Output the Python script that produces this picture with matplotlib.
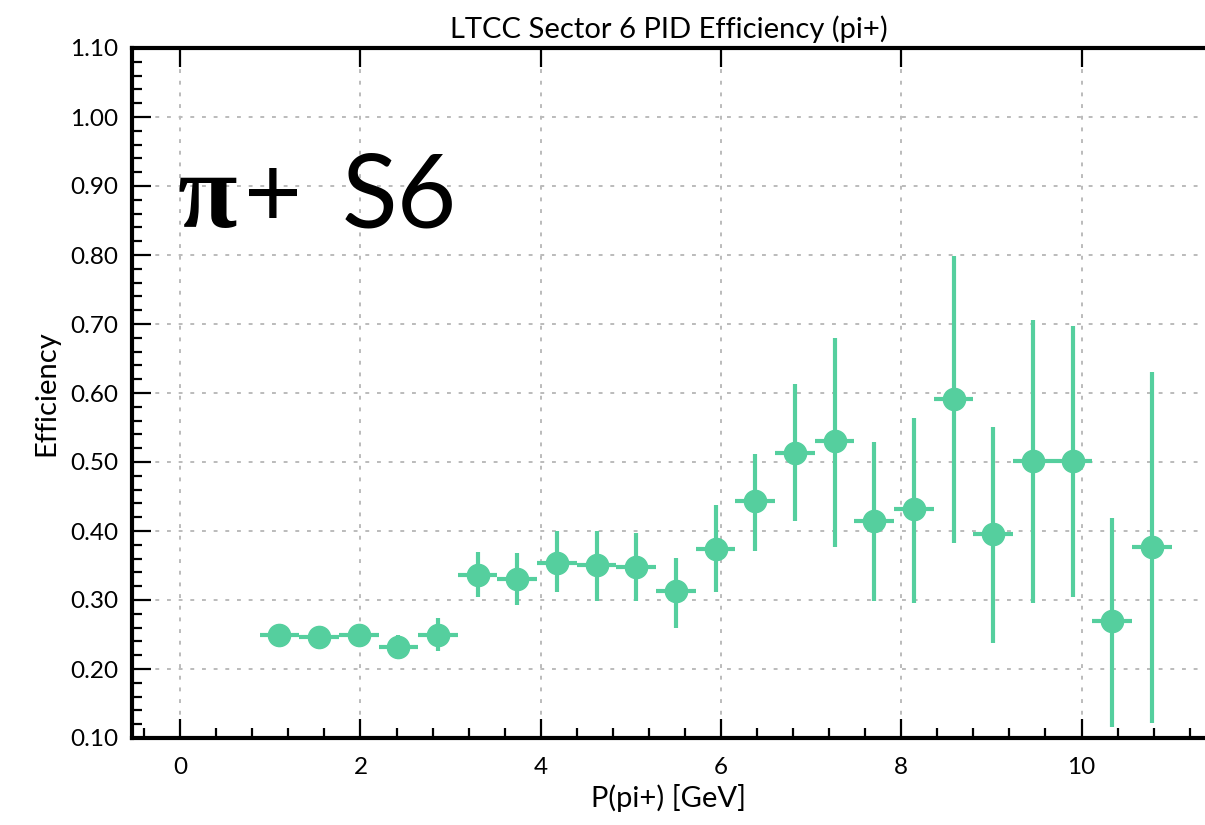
import matplotlib
matplotlib.use("Agg")
import matplotlib.pyplot as plt
import numpy as np
from matplotlib.ticker import MultipleLocator, FormatStrFormatter

# Data
p_centers = [1.10, 1.54, 1.98, 2.42, 2.86, 3.30, 3.74, 4.18, 4.62, 5.06, 5.50, 5.94,
             6.38, 6.82, 7.26, 7.70, 8.14, 8.58, 9.02, 9.46, 9.90, 10.34, 10.78]
bin_half_width = 0.22
efficiency = [0.249, 0.247, 0.249, 0.232, 0.249, 0.336, 0.330, 0.354, 0.351, 0.348, 0.313, 0.374,
              0.444, 0.513, 0.530, 0.414, 0.432, 0.592, 0.395, 0.501, 0.501, 0.270, 0.377]
err_high = [0.254, 0.252, 0.254, 0.250, 0.274, 0.370, 0.368, 0.400, 0.400, 0.397, 0.361, 0.437,
            0.512, 0.613, 0.680, 0.529, 0.564, 0.799, 0.550, 0.706, 0.697, 0.419, 0.631]
err_low = [0.244, 0.242, 0.244, 0.215, 0.226, 0.305, 0.293, 0.311, 0.299, 0.299, 0.260, 0.311,
           0.371, 0.414, 0.377, 0.299, 0.296, 0.383, 0.238, 0.296, 0.305, 0.116, 0.122]
yticks = [0.10, 0.20, 0.30, 0.40, 0.50, 0.60, 0.70, 0.80, 0.90, 1.00, 1.10]
xticks = [0, 2, 4, 6, 8, 10]

W, H = 1205, 825
plt.rcParams['font.family'] = ['Lato', 'DejaVu Sans']
fig = plt.figure(figsize=(W / 100, H / 100), dpi=100)
ax = fig.add_axes([132 / W, 1 - 738 / H, (W - 132) / W, (738 - 48) / H])

color = '#55cf9e'
eff = np.array(efficiency)
yerr = [eff - np.array(err_low), np.array(err_high) - eff]
ax.errorbar(p_centers, eff, yerr=yerr, xerr=bin_half_width, fmt='o', color=color,
            markersize=16, elinewidth=3, capsize=0, zorder=3)

ax.set_xlim(-0.535, 11.37)
ax.set_ylim(0.10, 1.10)
ax.set_xticks(xticks)
ax.set_yticks(yticks)
ax.yaxis.set_major_formatter(FormatStrFormatter('%.2f'))
ax.xaxis.set_minor_locator(MultipleLocator(0.4))
ax.yaxis.set_minor_locator(MultipleLocator(0.02))

ax.grid(True, which='major', linestyle=(0, (2, 4)), color='#bbbbbb', linewidth=1.4, zorder=0)

for s in ['left', 'bottom', 'top']:
    ax.spines[s].set_linewidth(3)
ax.spines['right'].set_visible(False)

ax.tick_params(axis='x', which='major', direction='in', length=14, width=1.6,
               labelsize=17.5, pad=14, top=True)
ax.tick_params(axis='x', which='minor', direction='in', length=7, width=1.6, top=False)
ax.tick_params(axis='y', which='major', direction='in', length=14, width=1.6,
               labelsize=17.5, pad=10, right=False)
ax.tick_params(axis='y', which='minor', direction='in', length=7, width=1.6, right=False)

ax.set_title('LTCC Sector 6 PID Efficiency (pi+)', fontsize=21, pad=7)
ax.set_xlabel('P(pi+) [GeV]', fontsize=21, labelpad=4)
ax.set_ylabel('Efficiency', fontsize=21, labelpad=8)

fig.text(178 / W, 1 - 227 / H, 'π', fontsize=78, fontweight='bold',
         family=['Liberation Serif', 'DejaVu Serif'], va='baseline', ha='left')
fig.text(244 / W, 1 - 227 / H, '+', fontsize=72, fontweight='normal',
         va='baseline', ha='left')
fig.text(342 / W, 1 - 227 / H, 'S6', fontsize=74, fontweight='normal',
         va='baseline', ha='left')

fig.savefig('out.png', dpi=100)
